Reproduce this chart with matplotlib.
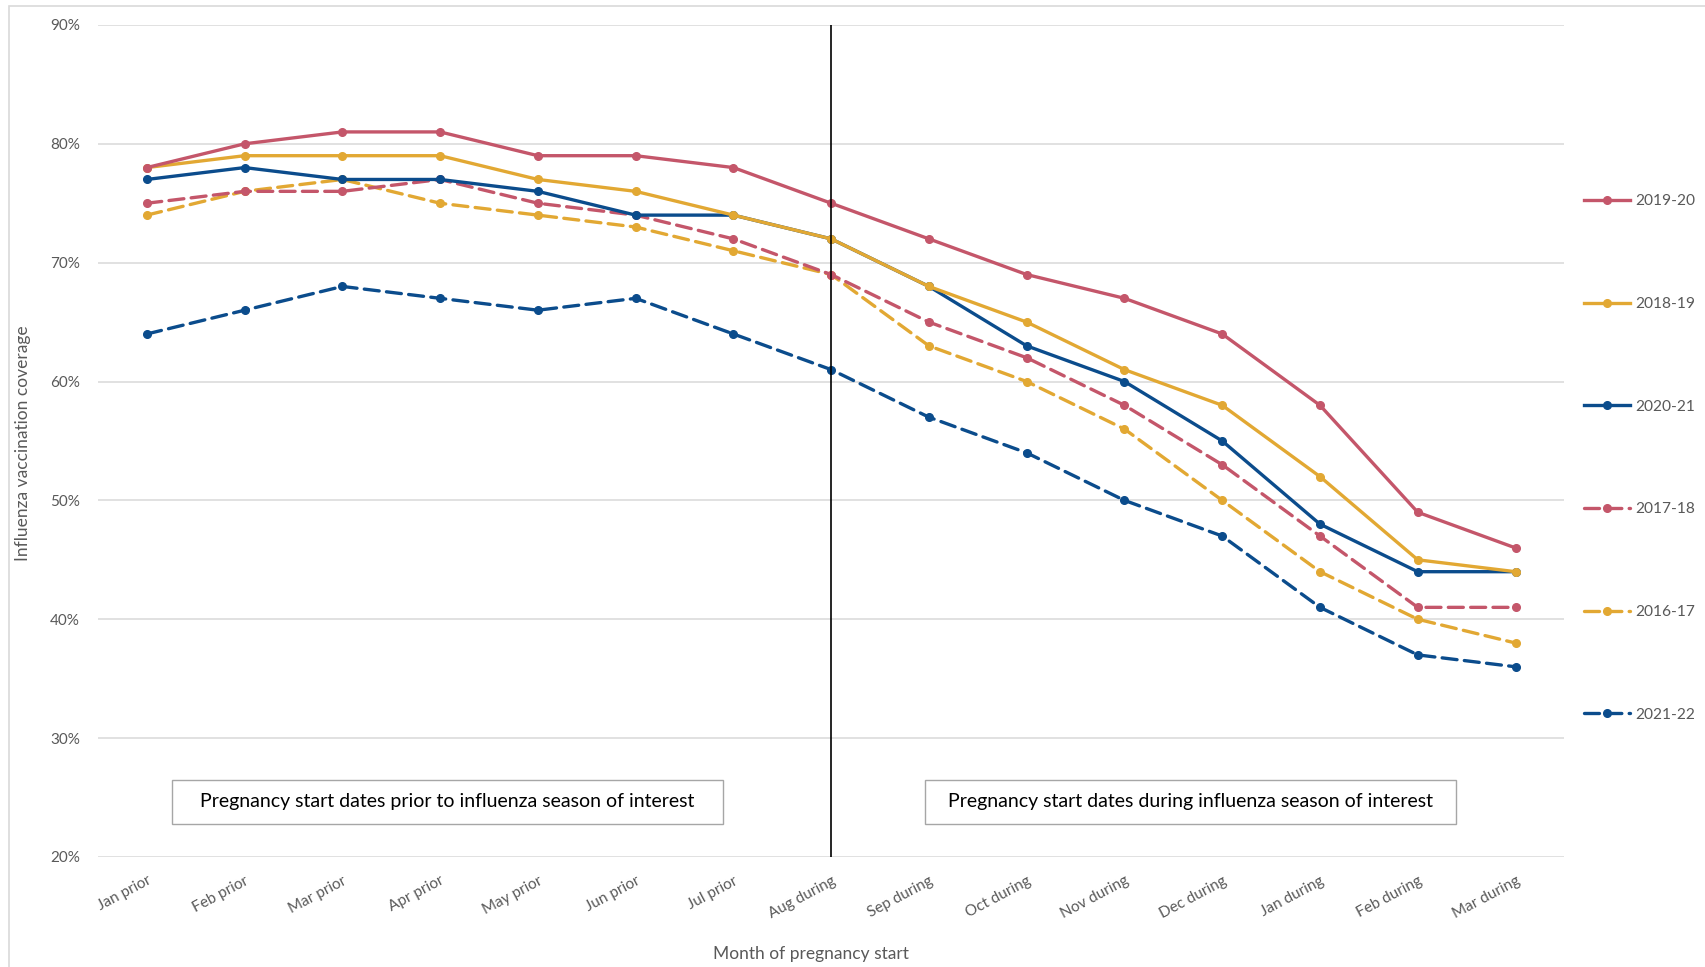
import matplotlib.pyplot as plt
import matplotlib.patches as mpatches
from matplotlib.ticker import FuncFormatter

plt.rcParams['font.family'] = ['Lato', 'DejaVu Sans']

months = ['Jan prior', 'Feb prior', 'Mar prior', 'Apr prior', 'May prior', 'Jun prior',
          'Jul prior', 'Aug during', 'Sep during', 'Oct during', 'Nov during',
          'Dec during', 'Jan during', 'Feb during', 'Mar during']

s2019_20 = [78, 80, 81, 81, 79, 79, 78, 75, 72, 69, 67, 64, 58, 49, 46]
s2018_19 = [78, 79, 79, 79, 77, 76, 74, 72, 68, 65, 61, 58, 52, 45, 44]
s2020_21 = [77, 78, 77, 77, 76, 74, 74, 72, 68, 63, 60, 55, 48, 44, 44]
s2017_18 = [75, 76, 76, 77, 75, 74, 72, 69, 65, 62, 58, 53, 47, 41, 41]
s2016_17 = [74, 76, 77, 75, 74, 73, 71, 69, 63, 60, 56, 50, 44, 40, 38]
s2021_22 = [64, 66, 68, 67, 66, 67, 64, 61, 57, 54, 50, 47, 41, 37, 36]

RED = '#C4566A'
GOLD = '#E2A833'
BLUE = '#0B4C8C'
GREY = '#595959'

fig = plt.figure(figsize=(17.06, 9.67), dpi=100)
ax = fig.add_axes([0.0574, 0.1138, 0.8596, 0.8604])

# outer chart border
fig.patches.append(mpatches.Rectangle((0.005, -0.01), 1.0, 1.004, transform=fig.transFigure,
                                      fill=False, edgecolor='#D9D9D9', lw=1.2))

x = list(range(len(months)))
series = [
    ('2019-20', s2019_20, RED, '-'),
    ('2018-19', s2018_19, GOLD, '-'),
    ('2020-21', s2020_21, BLUE, '-'),
    ('2017-18', s2017_18, RED, '--'),
    ('2016-17', s2016_17, GOLD, '--'),
    ('2021-22', s2021_22, BLUE, '--'),
]
handles = []
for i, (name, vals, col, ls) in enumerate(series):
    kw = dict(color=col, lw=2.4, marker='o', markersize=5.5, label=name, zorder=10 - i)
    if ls == '--':
        line, = ax.plot(x, vals, dashes=(4.5, 2.2), dash_capstyle='round', **kw)
    else:
        line, = ax.plot(x, vals, **kw)
    handles.append(line)

ax.set_xlim(-0.5, len(months) - 0.5)
ax.set_ylim(20, 90)
ax.set_yticks(range(20, 91, 10))
ax.yaxis.set_major_formatter(FuncFormatter(lambda v, p: '%d%%' % v))
ax.grid(axis='y', color='#D9D9D9', lw=1.1)
ax.set_axisbelow(True)
for s in ax.spines.values():
    s.set_visible(False)
ax.tick_params(length=0, colors=GREY, labelsize=11)
ax.tick_params(axis='y', pad=13)
ax.set_xticks(x)
ax.set_xticklabels(months, rotation=28, ha='right', va='top', rotation_mode='anchor')
ax.tick_params(axis='x', pad=12)

# separator between prior and during
ax.axvline(7, color='black', lw=1.2, zorder=20)

# annotation boxes
for x0, x1, txt in [(0.26, 5.89, 'Pregnancy start dates prior to influenza season of interest'),
                    (7.96, 13.39, 'Pregnancy start dates during influenza season of interest')]:
    ax.add_patch(mpatches.Rectangle((x0, 22.8), x1 - x0, 3.7, facecolor='white',
                                    edgecolor='#A6A6A6', lw=1, zorder=15))
    ax.text((x0 + x1) / 2, 24.65, txt, ha='center', va='center', fontsize=14,
            color='black', zorder=16)

fig.text(0.0135, 0.5418, 'Influenza vaccination coverage', rotation=90, ha='center',
         va='center', fontsize=12.5, color=GREY)
fig.text(0.4755, 0.0135, 'Month of pregnancy start', ha='center', va='center',
         fontsize=12.5, color=GREY)

fig.legend(handles=handles, loc='upper left', bbox_to_anchor=(0.9238, 0.807),
           frameon=False, fontsize=11.2, labelspacing=5.7, handlelength=3.0,
           handletextpad=0.3, borderpad=0, labelcolor=GREY)

fig.savefig('out.png', dpi=100)
